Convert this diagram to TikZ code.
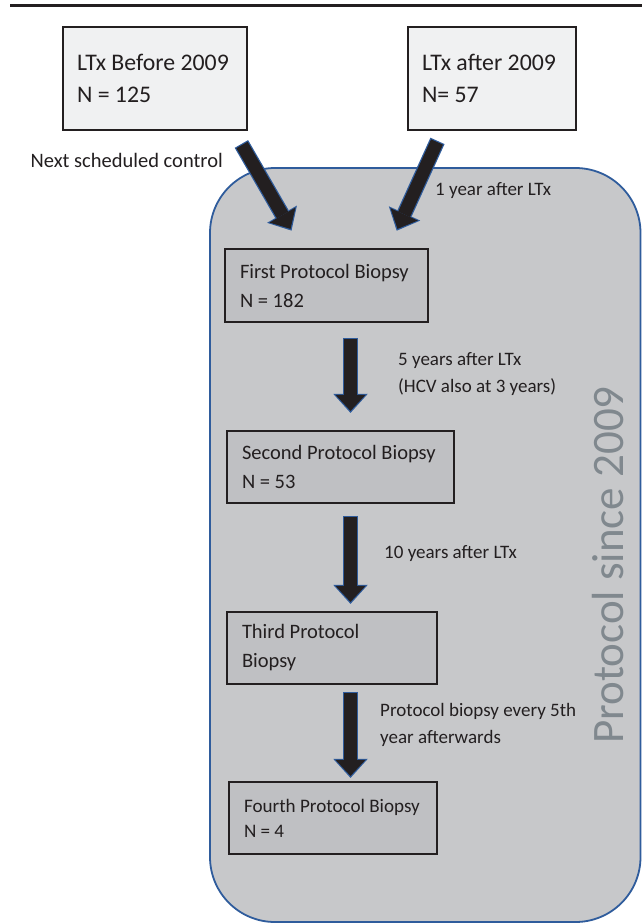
\documentclass[tikz,border=0pt]{standalone}
\usepackage{fontspec}
\setmainfont{Carlito}
\usepackage{tikz}
\usetikzlibrary{arrows.meta,positioning,calc}

\definecolor{inkblack}{HTML}{231F20}
\definecolor{edgeblue}{HTML}{2F5C9C}
\definecolor{panelgray}{HTML}{C7C8CA}
\definecolor{stagegray}{HTML}{BFC0C3}
\definecolor{startgray}{HTML}{F0F1F2}
\definecolor{titlegray}{HTML}{80888E}

\tikzset{
  startbox/.style={draw=inkblack, line width=2.5pt, fill=startgray, text=inkblack, align=flush left,
    inner xsep=14pt, minimum height=103pt, font=\fontsize{23.8}{32}\selectfont},
  stagebox/.style={draw=inkblack, line width=2.2pt, fill=stagegray, text=inkblack, align=flush left,
    inner xsep=15pt, minimum height=72pt, font=\fontsize{20.5}{29}\selectfont},
  note/.style={inner sep=0pt, align=left, text=inkblack, font=\fontsize{19}{27}\selectfont},
  blockarrow/.style={draw=inkblack, line width=13pt,
    -{Triangle[width=30pt,length=16pt,line width=0pt]},
    preaction={draw=edgeblue, line width=15.5pt, shorten <=-1.2pt, shorten >=-2pt,
      -{Triangle[width=34.5pt,length=19pt,line width=0pt]}}},
}

\begin{document}
\begin{tikzpicture}[x=1pt, y=-1pt]
    \path[use as bounding box, fill=white] (0,0) rectangle (642,923);
    \draw[inkblack, line width=3pt] (10,6) -- (642,6);

    % Protocol panel
    \draw[edgeblue, line width=1.8pt, fill=panelgray, rounded corners=65pt] (210,168) rectangle (640.5,922);
    \node[rotate=90, anchor=base, text=titlegray, font=\fontsize{45}{45}\selectfont] (since) at (623.5,565) {Protocol since 2009};

    % Transplant groups
    \node[startbox, text width=156pt] (before) at (155,78.5) {\mbox{LTx Before 2009}\\N = 125};
    \node[startbox, text width=140pt] (after) at (492,78.5) {\mbox{LTx after 2009}\\N= 57};

    % Biopsies
    \node[stagebox, text width=173pt, minimum height=73pt] (first) at (326.5,285.5) {\mbox{First Protocol Biopsy}\\N = 182};
    \node[stagebox, text width=197pt] (second) at (340.5,467) {\mbox{Second Protocol Biopsy}\\N = 53};
    \node[stagebox, text width=180pt] (third) at (332,648) {Third Protocol\\Biopsy};
    \node[stagebox, text width=178pt, font=\fontsize{19.1}{25}\selectfont] (fourth) at (333,818) {\mbox{Fourth Protocol Biopsy}\\N = 4};

    % Labels
    \node[note, anchor=base east, font=\fontsize{20.5}{27}\selectfont] (control) at (223,167) {Next scheduled control};
    \node[note, anchor=base west] (oneyear) at (435,195) {1 year after LTx};
    \node[note, anchor=north west] (fiveyear) at (398,352.5) {5 years after LTx\\(HCV also at 3 years)};
    \node[note, anchor=base west] (tenyear) at (384,558) {10 years after LTx};
    \node[note, anchor=north west] (everyfifth) at (380,703.5) {Protocol biopsy every 5th\\year afterwards};

    % Arrows
    \coordinate (ctrlstart) at (242,145);
    \coordinate (yearstart) at (437,142);
    \coordinate (ax) at (350.5,0);
    \draw[blockarrow] (ctrlstart) -- ($(first.north)+(-36,-19)$);
    \draw[blockarrow] (yearstart) -- ($(first.north)+(71,-19)$);
    \draw[blockarrow] ($(first.south -| ax)+(0,16)$) -- ($(second.north -| ax)+(0,-19)$);
    \draw[blockarrow] ($(second.south -| ax)+(0,13)$) -- ($(third.north -| ax)+(0,-9)$);
    \draw[blockarrow] ($(third.south -| ax)+(0,8)$) -- ($(fourth.north -| ax)+(0,-5)$);
\end{tikzpicture}
\end{document}
